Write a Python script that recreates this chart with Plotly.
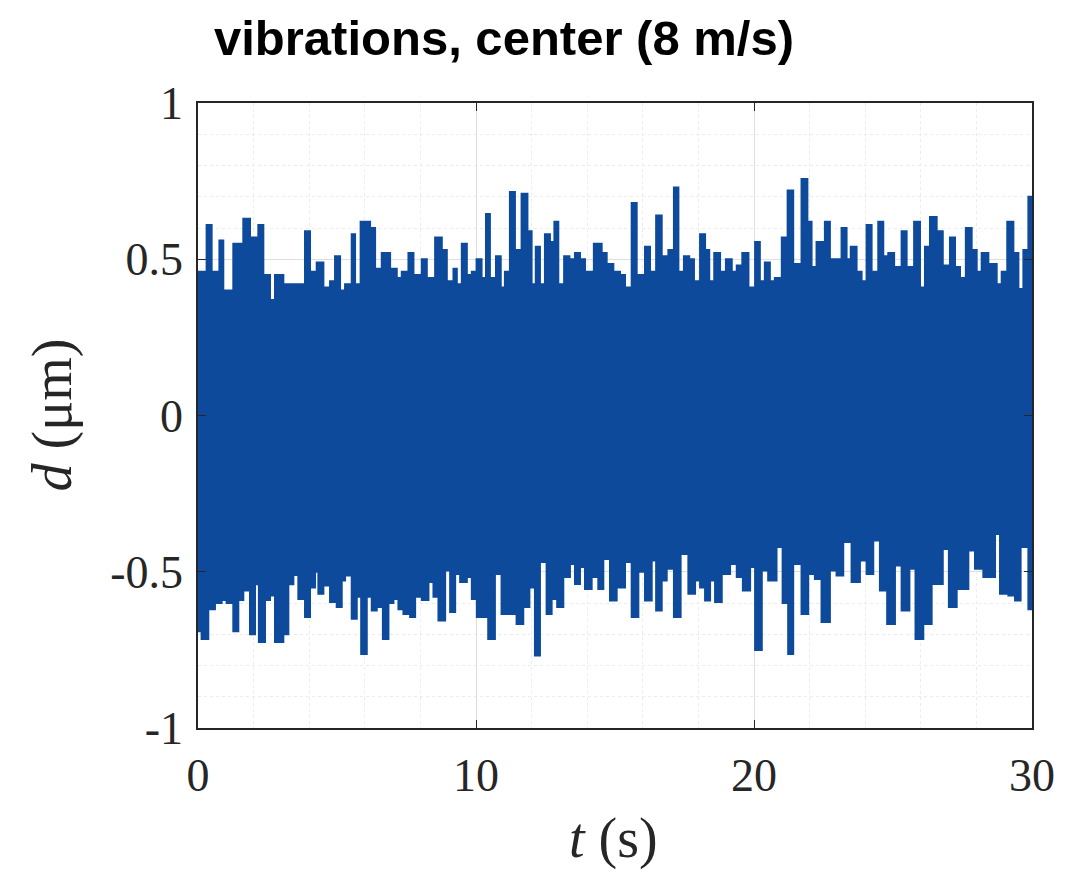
import plotly.graph_objects as go

# Upper envelope (peak) readings: time (s), displacement (um)
t_upper = [0.00, 0.31, 0.49, 0.77, 0.91, 1.27, 1.63, 1.87, 2.17, 2.35, 2.59, 2.77, 3.07, 3.43,
           3.85, 4.03, 4.27, 4.51, 4.75, 4.93, 5.11, 5.29, 5.53, 5.65, 5.85, 6.19, 6.37, 6.61,
           6.91, 7.15, 7.33, 7.57, 7.75, 8.05, 8.23, 8.53, 8.77, 8.95, 9.19, 9.31, 9.49, 9.67,
           9.85, 10.02, 10.20, 10.36, 10.50, 10.72, 10.89, 11.04, 11.22, 11.40, 11.64, 11.85,
           12.00, 12.15, 12.30, 12.48, 12.66, 12.82, 12.96, 13.17, 13.36, 13.56, 13.74, 13.92,
           14.24, 14.52, 14.70, 14.94, 15.18, 15.36, 15.60, 15.78, 16.08, 16.26, 16.48, 16.68,
           16.92, 17.12, 17.28, 17.48, 17.67, 17.84, 18.06, 18.24, 18.39, 18.57, 18.78, 18.99,
           19.20, 19.38, 19.58, 19.80, 20.04, 20.21, 20.39, 20.57, 20.75, 21.00, 21.21, 21.41,
           21.71, 21.92, 22.07, 22.25, 22.55, 22.73, 22.91, 23.15, 23.33, 23.48, 23.69, 23.87,
           24.05, 24.23, 24.47, 24.65, 24.83, 25.04, 25.31, 25.49, 25.76, 25.97, 26.15, 26.33,
           26.57, 26.79, 27.05, 27.23, 27.41, 27.62, 27.83, 28.01, 28.19, 28.43, 28.73, 28.91,
           29.11, 29.33, 29.51, 29.69, 29.87, 30.00]
d_upper = [0.46, 0.61, 0.46, 0.56, 0.40, 0.55, 0.63, 0.57, 0.61, 0.45, 0.37, 0.45, 0.42, 0.42,
           0.59, 0.46, 0.49, 0.41, 0.43, 0.51, 0.40, 0.42, 0.58, 0.42, 0.62, 0.60, 0.47, 0.52,
           0.47, 0.44, 0.46, 0.52, 0.45, 0.50, 0.44, 0.57, 0.53, 0.43, 0.47, 0.42, 0.55, 0.45,
           0.46, 0.50, 0.44, 0.645, 0.44, 0.51, 0.41, 0.46, 0.715, 0.53, 0.71, 0.59,
           0.42, 0.54, 0.42, 0.58, 0.555, 0.62, 0.42, 0.51, 0.50, 0.52, 0.50, 0.46,
           0.55, 0.52, 0.485, 0.46, 0.45, 0.41, 0.68, 0.45, 0.54, 0.46, 0.64, 0.51,
           0.53, 0.73, 0.46, 0.51, 0.50, 0.43, 0.58, 0.53, 0.43, 0.52, 0.46, 0.50,
           0.46, 0.48, 0.52, 0.41, 0.555, 0.43, 0.49, 0.43, 0.44, 0.57, 0.72, 0.485,
           0.757, 0.62, 0.475, 0.555, 0.62, 0.50, 0.50, 0.60, 0.50, 0.54, 0.46, 0.43,
           0.61, 0.46, 0.62, 0.51, 0.52, 0.475, 0.59, 0.475, 0.62, 0.41, 0.54, 0.635,
           0.59, 0.48, 0.57, 0.475, 0.44, 0.60, 0.53, 0.46, 0.52, 0.485, 0.42, 0.46,
           0.62, 0.52, 0.405, 0.53, 0.70, 0.70]

# Lower envelope (trough) readings
t_lower = [0.00, 0.13, 0.37, 0.61, 0.85, 1.03, 1.27, 1.45, 1.63, 1.87, 2.05, 2.19, 2.41, 2.59,
           2.77, 3.07, 3.25, 3.43, 3.61, 3.85, 4.03, 4.21, 4.33, 4.51, 4.75, 4.99, 5.17, 5.29,
           5.53, 5.71, 5.87, 6.07, 6.25, 6.43, 6.65, 6.85, 7.03, 7.21, 7.39, 7.63, 7.81, 8.05,
           8.29, 8.47, 8.65, 8.89, 9.07, 9.25, 9.43, 9.67, 9.85, 10.03, 10.20, 10.44, 10.68,
           10.92, 11.22, 11.46, 11.70, 11.92, 12.12, 12.30, 12.54, 12.72, 12.92, 13.14, 13.38,
           13.56, 13.74, 13.92, 14.16, 14.40, 14.58, 14.82, 15.06, 15.36, 15.60, 15.84, 16.08,
           16.32, 16.48, 16.68, 16.86, 17.12, 17.36, 17.64, 17.88, 18.06, 18.24, 18.42, 18.60,
           18.84, 19.14, 19.38, 19.60, 19.86, 20.04, 20.28, 20.51, 20.81, 21.03, 21.23, 21.41,
           21.71, 21.95, 22.19, 22.43, 22.73, 22.97, 23.21, 23.51, 23.81, 24.05, 24.29, 24.53,
           24.79, 25.07, 25.31, 25.59, 25.81, 26.09, 26.39, 26.79, 27.01, 27.29, 27.71, 27.95,
           28.25, 28.67, 28.85, 29.15, 29.39, 29.59, 29.87, 30.00]
d_lower = [-0.69, -0.715, -0.62, -0.60, -0.59, -0.60, -0.69, -0.59, -0.56, -0.70, -0.54, -0.725,
           -0.59, -0.576, -0.725, -0.70, -0.54, -0.51, -0.587, -0.645, -0.55, -0.50, -0.57,
           -0.544, -0.597, -0.613, -0.528, -0.512, -0.65, -0.58, -0.763, -0.58, -0.624, -0.613,
           -0.715, -0.60, -0.587, -0.62, -0.635, -0.645, -0.58, -0.59, -0.533, -0.58, -0.656,
           -0.496, -0.629, -0.507, -0.533, -0.517, -0.587, -0.645, -0.645, -0.715, -0.507,
           -0.635, -0.635, -0.667, -0.613, -0.55, -0.768, -0.469, -0.635, -0.587, -0.613,
           -0.517, -0.475, -0.539, -0.485, -0.555, -0.517, -0.555, -0.459, -0.592, -0.55,
           -0.469, -0.645, -0.50, -0.592, -0.464, -0.624, -0.528, -0.49, -0.645, -0.443,
           -0.57, -0.528, -0.55, -0.592, -0.528, -0.597, -0.507, -0.475, -0.517, -0.56,
           -0.485, -0.75, -0.496, -0.528, -0.421, -0.60, -0.763, -0.475, -0.635, -0.507,
           -0.523, -0.661, -0.496, -0.512, -0.405, -0.533, -0.464, -0.507, -0.40, -0.56,
           -0.667, -0.48, -0.624, -0.49, -0.715, -0.667, -0.539, -0.427, -0.613, -0.555,
           -0.432, -0.49, -0.517, -0.379, -0.57, -0.576, -0.592, -0.421, -0.62, -0.62]

x_ticks = [0, 10, 20, 30]
y_ticks = [-1, -0.5, 0, 0.5, 1]
y_ticktext = ["-1", "-0.5", "0", "0.5", "1"]

BLUE = "#0d4a9c"
INK = "#262626"

# page has an 8px body margin; figure is sized/positioned to compensate
W, H = 1075, 866

fig = go.Figure()
fig.add_trace(go.Scatter(x=t_lower, y=d_lower, mode="lines",
                         line=dict(color=BLUE, width=2, shape="hv"), showlegend=False))
fig.add_trace(go.Scatter(x=t_upper, y=d_upper, mode="lines",
                         line=dict(color=BLUE, width=2, shape="hv"),
                         fill="tonexty", fillcolor=BLUE, showlegend=False))

serif = "Liberation Serif, DejaVu Serif, serif"
axis_common = dict(
    showline=True, mirror="ticks", linecolor=INK, linewidth=1.5,
    ticks="inside", ticklen=8, tickcolor=INK, tickwidth=1.2,
    showgrid=True, gridcolor="#dedede", gridwidth=1, zeroline=False,
    tickfont=dict(family=serif, size=46, color=INK), automargin=False,
)
fig.update_xaxes(range=[0, 30], tickvals=x_ticks, ticktext=[str(v) for v in x_ticks],
                 minor=dict(dtick=2, tick0=0, showgrid=True, gridcolor="#ececec", griddash="dot", ticks=""),
                 ticklabelstandoff=6, **axis_common)
fig.update_yaxes(range=[-1, 1], tickvals=y_ticks, ticktext=y_ticktext,
                 minor=dict(dtick=0.1, tick0=0, showgrid=True, gridcolor="#ececec", griddash="dot", ticks=""),
                 ticklabelstandoff=4, **axis_common)

fig.add_annotation(text="<i>t</i> (s)", xref="paper", yref="paper", x=(613 - 198) / 834, y=-(838 - 728) / 625,
                   xanchor="center", yanchor="middle", showarrow=False,
                   font=dict(family=serif, size=56, color=INK))
fig.add_annotation(text="<i>d</i> (μm)", xref="paper", yref="paper", x=-(198 - 52) / 834, y=0.5,
                   xanchor="center", yanchor="middle", showarrow=False, textangle=-90,
                   font=dict(family=serif, size=56, color=INK))

fig.update_layout(
    width=W, height=H,
    margin=dict(l=190, r=51, t=95, b=146),
    paper_bgcolor="white", plot_bgcolor="white",
    title=dict(text="<b>vibrations, center (8 m/s)</b>", x=496 / W, xanchor="center",
               y=1 - 30 / H, yanchor="middle",
               font=dict(family="Liberation Sans, Arial, sans-serif", size=49, color="black")),
)

fig.write_html("out.html")
